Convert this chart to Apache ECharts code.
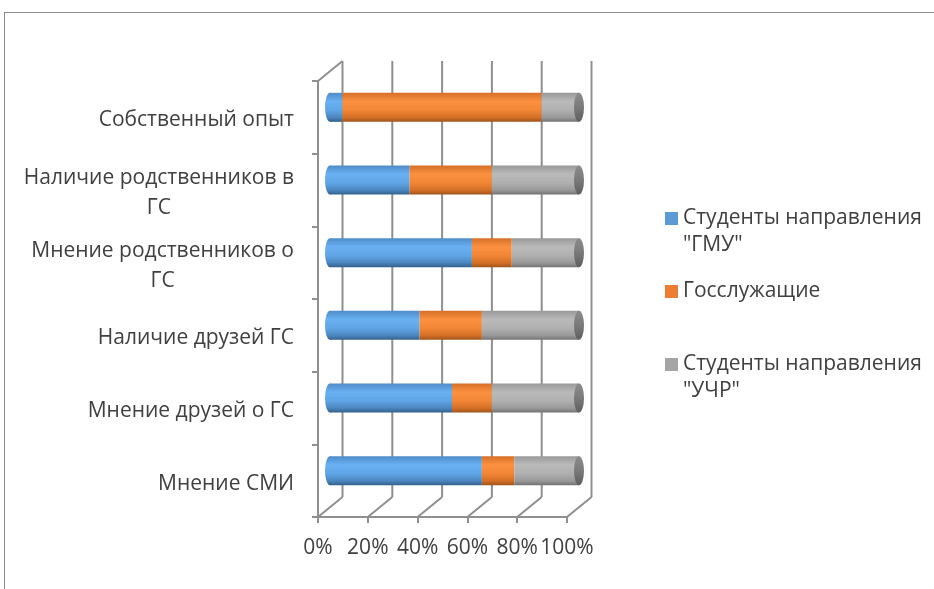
<!DOCTYPE html>
<html><head><meta charset="utf-8">
<script src="https://cdn.jsdelivr.net/npm/echarts@6/dist/echarts.min.js"></script>
<style>
html,body{margin:0;padding:0;background:#fff;overflow:hidden;}
#chart{position:absolute;left:0;top:0;width:934px;height:589px;}
#frame{position:absolute;left:4px;top:12px;width:930px;height:577px;box-sizing:border-box;border-top:1px solid #8c8c8c;border-left:1px solid #8c8c8c;pointer-events:none;}
</style></head><body>
<div id="chart"></div><div id="frame"></div>
<script>
// ---- data ----
const categories = ['Мнение СМИ', 'Мнение друзей о ГС', 'Наличие друзей ГС', 'Мнение родственников о\nГС', 'Наличие родственников в\nГС', 'Собственный опыт'];
const seriesNames = ['Студенты направления\n"ГМУ"', 'Госслужащие', 'Студенты направления\n"УЧР"'];
const gmu  = [61, 49, 36, 57, 32, 5];
const gos  = [13, 16, 25, 16, 33, 80];
const uchr = [26, 35, 39, 27, 35, 15];
const tickValues = [0, 20, 40, 60, 80, 100];

// ---- style ----
const FONT = '"Open Sans", sans-serif';
const FS = 21;
const TXT = '#404040';
const LINE = '#8f8f8f';
const DEPTH = [24.5, -20];
const BAR_W = 29;
const CAP_RX = 5;
const baseColors = ['#5B9BD5', '#ED7D31', '#A5A5A5'];
const G = echarts.graphic.LinearGradient;
const grads = [
  new G(0,0,0,1,[{offset:0,color:'#4f8bc8'},{offset:0.3,color:'#69b1f3'},{offset:0.6,color:'#60a5e6'},{offset:0.85,color:'#4b86bf'},{offset:1,color:'#33608b'}]),
  new G(0,0,0,1,[{offset:0,color:'#d66f26'},{offset:0.3,color:'#fb9140'},{offset:0.6,color:'#f28636'},{offset:0.85,color:'#d46f26'},{offset:1,color:'#a0541b'}]),
  new G(0,0,0,1,[{offset:0,color:'#999999'},{offset:0.3,color:'#bababa'},{offset:0.6,color:'#b0b0b0'},{offset:0.85,color:'#999999'},{offset:1,color:'#727272'}])
];
const capGrad = new G(0,0,0,1,[{offset:0,color:'#8c8c8c'},{offset:0.5,color:'#7a7a7a'},{offset:1,color:'#5e5e5e'}]);
const values = [gmu, gos, uchr];

// centred second lines of category labels
const ctx = document.createElement('canvas').getContext('2d');
ctx.font = FS + 'px "Open Sans"';
const rich = { l1: {fontFamily: FONT, fontSize: FS, color: TXT, lineHeight: 30} };
categories.forEach((c, i) => {
  const parts = c.split('\n');
  if (parts.length > 1) {
    const pad = Math.max(0, (ctx.measureText(parts[0]).width - ctx.measureText(parts[1]).width) / 2);
    rich['l2_' + i] = {fontFamily: FONT, fontSize: FS, color: TXT, lineHeight: 30, padding: [0, pad, 0, 0]};
  }
});

function renderFrame(params, api) {
  const v = api.value(0);
  const cs = params.coordSys;
  const x = api.coord([v, 0])[0];
  const top = cs.y, bottom = cs.y + cs.height;
  const style = {stroke: LINE, lineWidth: 2, fill: null};
  const children = [
    {type: 'line', shape: {x1: x + DEPTH[0], y1: top + DEPTH[1], x2: x + DEPTH[0], y2: bottom + DEPTH[1]}, style},
    {type: 'line', shape: {x1: x, y1: bottom, x2: x + DEPTH[0], y2: bottom + DEPTH[1]}, style}
  ];
  if (v === tickValues[0]) children.push({type: 'line', shape: {x1: x, y1: top, x2: x + DEPTH[0], y2: top + DEPTH[1]}, style});
  return {type: 'group', children};
}
function capRenderer(fill) {
  return function (params, api) {
    const p = api.coord([api.value(0), api.value(1)]);
    return {type: 'circle', x: p[0], y: p[1], scaleX: CAP_RX / (BAR_W / 2), shape: {cx: 0, cy: 0, r: BAR_W / 2}, style: {fill}};
  };
}

const legendTops = [178, 278, 324];
const chart = echarts.init(document.getElementById('chart'), null, {renderer: 'canvas'});
chart.setOption({
  animation: false,
  backgroundColor: '#fff',
  grid: [
    {left: 318, top: 81, width: 249, height: 436},
    {left: 330, top: 71, width: 249, height: 436}
  ],
  xAxis: [
    {type: 'value', gridIndex: 0, min: 0, max: 100, interval: 20,
     axisLine: {show: true, lineStyle: {color: LINE, width: 2}},
     axisTick: {show: true, length: 6, lineStyle: {color: LINE, width: 2}},
     splitLine: {show: false},
     axisLabel: {formatter: '{value}%', fontFamily: FONT, fontSize: FS, color: TXT, margin: 21}},
    {type: 'value', gridIndex: 1, min: 0, max: 100, show: false}
  ],
  yAxis: [
    {type: 'category', gridIndex: 0, data: categories,
     axisLine: {show: true, lineStyle: {color: LINE, width: 2}},
     axisTick: {show: true, length: 6, lineStyle: {color: LINE, width: 2}},
     axisLabel: {margin: 24, align: 'right', rich, padding: [6, 0, 0, 0],
       formatter: function (val, idx) {
         const parts = val.split('\n');
         if (parts.length > 1) return '{l1|' + parts[0] + '}\n{l2_' + idx + '|' + parts[1] + '}';
         return '{l1|' + val + '}';
       }}},
    {type: 'category', gridIndex: 1, data: categories, show: false}
  ],
  legend: seriesNames.map((n, i) => ({
    orient: 'vertical', left: 665, top: legendTops[i], padding: 0,
    itemWidth: 13, itemHeight: 13, selectedMode: false,
    formatter: n.indexOf('\n') >= 0 ? '\n{name}' : '{name}',
    textStyle: {fontFamily: FONT, fontSize: FS, color: TXT, lineHeight: 27},
    data: [{name: n, icon: 'rect', itemStyle: {color: baseColors[i]}}]
  })),
  series: [
    {type: 'custom', xAxisIndex: 0, yAxisIndex: 0, renderItem: renderFrame, data: tickValues.map(v => [v]), z: 1, silent: true},
    {type: 'custom', xAxisIndex: 1, yAxisIndex: 1, renderItem: capRenderer(grads[0]), data: categories.map((c, i) => [0, i]), z: 2, silent: true},
    ...seriesNames.map((n, i) => ({
      name: n, type: 'bar', stack: 'total', xAxisIndex: 1, yAxisIndex: 1,
      barWidth: BAR_W, data: values[i], itemStyle: {color: grads[i]}, z: 3, silent: true
    })),
    {type: 'custom', xAxisIndex: 1, yAxisIndex: 1, renderItem: capRenderer(capGrad), data: categories.map((c, i) => [100, i]), z: 4, silent: true}
  ]
});
</script>
</body></html>
